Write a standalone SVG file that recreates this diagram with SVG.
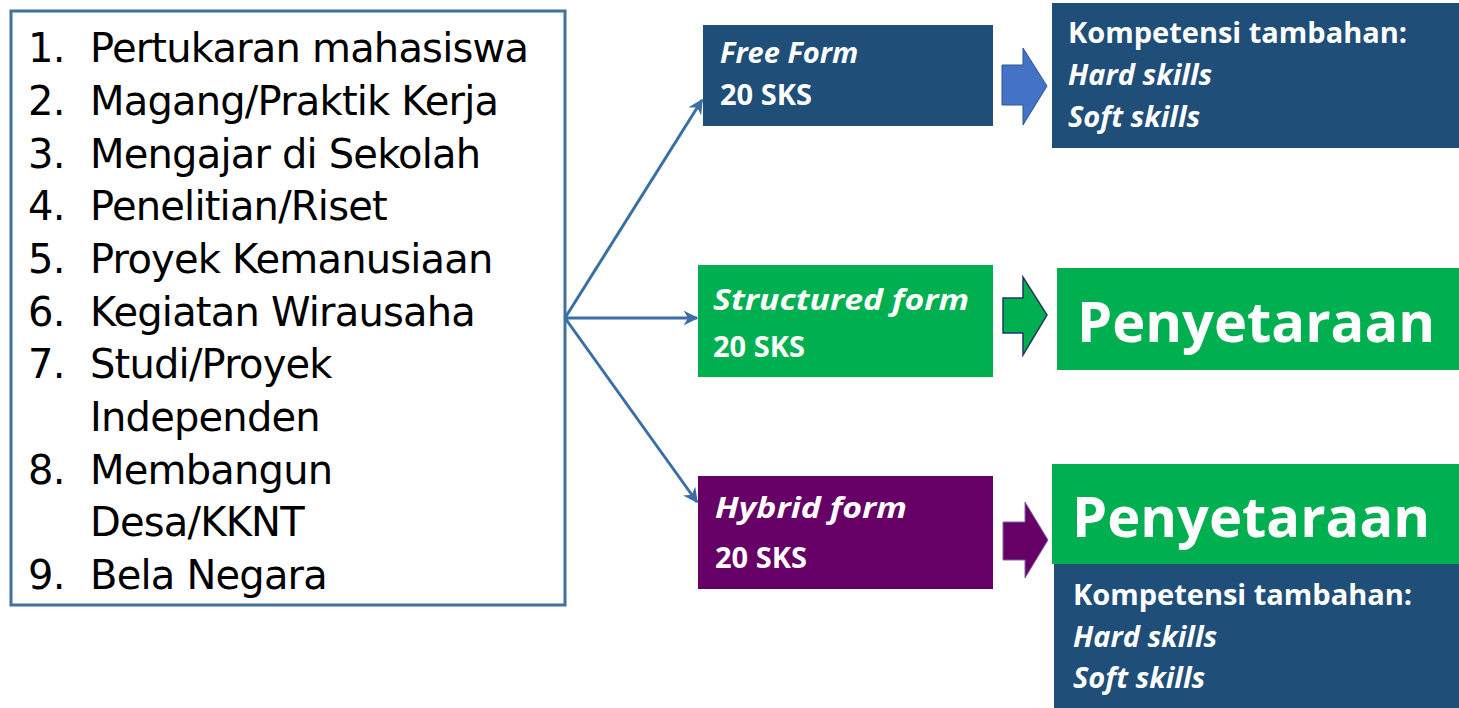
<svg xmlns="http://www.w3.org/2000/svg" width="1459" height="708" viewBox="0 0 1459 708">
<style>
.list{font-family:"DejaVu Sans","Verdana",sans-serif;font-size:40px;fill:#000;letter-spacing:-0.8px}
.lbl{font-family:"Open Sans","Noto Sans",sans-serif;font-weight:bold;fill:#fff;font-size:29px}
.it{font-style:italic}
.big{font-family:"Open Sans","Noto Sans",sans-serif;font-weight:bold;fill:#fff;font-size:56px}
.conn{stroke:#3b6ea5;stroke-width:3;fill:none}
</style>
<defs>
<marker id="ah" viewBox="0 0 10 10" refX="9" refY="5" markerWidth="5" markerHeight="5" orient="auto" markerUnits="strokeWidth">
<path d="M0,0 L10,5 L0,10 L3,5 z" fill="#3b6ea5"/>
</marker>
</defs>
<rect width="1459" height="708" fill="#fff"/>
<g id="list">
<rect x="11" y="11" width="554" height="594" fill="#fff" stroke="#41719c" stroke-width="3"/>
<text class="list" x="28" y="62">1.</text><text class="list" x="90" y="62">Pertukaran mahasiswa</text>
<text class="list" x="28" y="115">2.</text><text class="list" x="90" y="115">Magang/Praktik Kerja</text>
<text class="list" x="28" y="168">3.</text><text class="list" x="90" y="168">Mengajar di Sekolah</text>
<text class="list" x="28" y="220">4.</text><text class="list" x="90" y="220">Penelitian/Riset</text>
<text class="list" x="28" y="273">5.</text><text class="list" x="90" y="273">Proyek Kemanusiaan</text>
<text class="list" x="28" y="326">6.</text><text class="list" x="90" y="326">Kegiatan Wirausaha</text>
<text class="list" x="28" y="378">7.</text><text class="list" x="90" y="378">Studi/Proyek</text>
<text class="list" x="90" y="431">Independen</text>
<text class="list" x="28" y="484">8.</text><text class="list" x="90" y="484">Membangun</text>
<text class="list" x="90" y="536">Desa/KKNT</text>
<text class="list" x="28" y="589">9.</text><text class="list" x="90" y="589">Bela Negara</text>
</g>
<g id="connectors">
<line class="conn" x1="565" y1="318" x2="702" y2="100" marker-end="url(#ah)"/>
<line class="conn" x1="565" y1="318" x2="697" y2="318" marker-end="url(#ah)"/>
<line class="conn" x1="565" y1="318" x2="697" y2="502" marker-end="url(#ah)"/>
<path d="M1002,65 L1023,65 L1023,48 L1047,86 L1023,125 L1023,105 L1002,105 z" fill="#4472c4" stroke="#2f5597" stroke-width="1"/>
<path d="M1003,298 L1023,298 L1023,277 L1047,315 L1023,355 L1023,333 L1003,333 z" fill="#00b050" stroke="#203864" stroke-width="1.5"/>
<path d="M1003,522 L1025,522 L1025,502 L1048,540 L1025,578 L1025,560 L1003,560 z" fill="#660066" stroke="#8064a2" stroke-width="1"/>
</g>
<g id="free">
<rect x="703" y="25" width="290" height="101" fill="#1f4e79"/>
<text class="lbl it" x="720" y="63">Free Form</text>
<text class="lbl" x="720" y="105">20 SKS</text>
</g>
<g id="structured">
<rect x="698" y="265" width="295" height="112" fill="#00b050"/>
<text class="lbl it" x="713" y="310" textLength="256" lengthAdjust="spacingAndGlyphs">Structured form</text>
<text class="lbl" x="713" y="357">20 SKS</text>
</g>
<g id="hybrid">
<rect x="698" y="476" width="295" height="113" fill="#660066"/>
<text class="lbl it" x="715" y="518" textLength="192" lengthAdjust="spacingAndGlyphs">Hybrid form</text>
<text class="lbl" x="715" y="568">20 SKS</text>
</g>
<g id="komp1">
<rect x="1052" y="3" width="407" height="145" fill="#1f4e79"/>
<text class="lbl" x="1068" y="43">Kompetensi tambahan:</text>
<text class="lbl it" x="1068" y="85">Hard skills</text>
<text class="lbl it" x="1068" y="127">Soft skills</text>
</g>
<g id="peny1">
<rect x="1057" y="268" width="402" height="102" fill="#00b050"/>
<text class="big" x="1077" y="342">Penyetaraan</text>
</g>
<g id="peny2">
<rect x="1052" y="464" width="407" height="100" fill="#00b050"/>
<text class="big" x="1072" y="537">Penyetaraan</text>
</g>
<g id="komp2">
<rect x="1054" y="564" width="405" height="144" fill="#1f4e79"/>
<text class="lbl" x="1073" y="605">Kompetensi tambahan:</text>
<text class="lbl it" x="1073" y="647">Hard skills</text>
<text class="lbl it" x="1073" y="688">Soft skills</text>
</g>
</svg>
